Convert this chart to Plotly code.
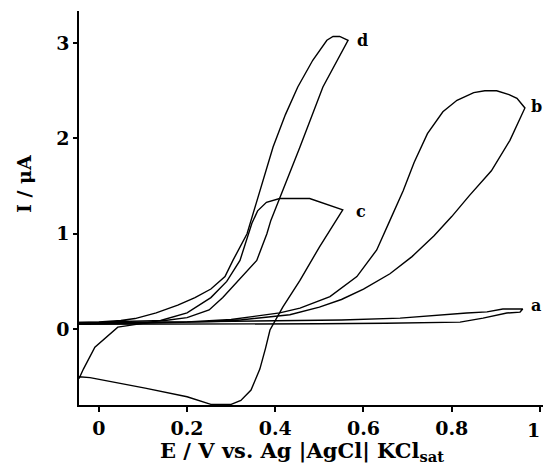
import plotly.graph_objects as go

# Curve a
E_a = [-0.045, 0.1, 0.3, 0.5, 0.65, 0.75, 0.819, 0.871, 0.925, 0.955, 0.961,
       0.916, 0.88, 0.834, 0.773, 0.683, 0.55, 0.4, 0.2, 0.05, -0.045]
I_a = [0.05, 0.05, 0.05, 0.055, 0.06, 0.065, 0.073, 0.115, 0.168, 0.178, 0.21,
       0.21, 0.18, 0.168, 0.147, 0.115, 0.095, 0.085, 0.075, 0.07, 0.07]

# Curve b
E_b = [-0.045, 0.1, 0.2, 0.3, 0.41, 0.456, 0.524, 0.585, 0.63, 0.66, 0.69, 0.715,
       0.745, 0.78, 0.812, 0.85, 0.875, 0.902, 0.93, 0.948, 0.966,
       0.932, 0.89, 0.84, 0.80, 0.76, 0.71, 0.66, 0.60, 0.55, 0.50, 0.433, 0.3, 0.1, -0.045]
I_b = [0.06, 0.065, 0.075, 0.1, 0.17, 0.22, 0.34, 0.55, 0.83, 1.14, 1.45, 1.75,
       2.05, 2.28, 2.40, 2.48, 2.50, 2.50, 2.46, 2.42, 2.32,
       1.98, 1.66, 1.40, 1.18, 0.98, 0.76, 0.58, 0.42, 0.31, 0.23, 0.15, 0.085, 0.06, 0.055]

# Curve c
E_c = [-0.045, -0.035, -0.009, 0.027, 0.043, 0.1, 0.14, 0.2, 0.254, 0.29, 0.32,
       0.347, 0.36, 0.38, 0.41, 0.478, 0.553,
       0.5, 0.456, 0.417, 0.388, 0.378, 0.365, 0.345, 0.322, 0.3, 0.254,
       0.2, 0.105, -0.02, -0.045]
I_c = [-0.52, -0.42, -0.19, -0.04, 0.02, 0.06, 0.09, 0.17, 0.33, 0.5, 0.72,
       1.11, 1.24, 1.33, 1.37, 1.37, 1.25,
       0.86, 0.51, 0.23, -0.01, -0.2, -0.42, -0.64, -0.75, -0.79, -0.79,
       -0.71, -0.62, -0.51, -0.50]

# Curve d
E_d = [-0.045, 0.0, 0.05, 0.082, 0.13, 0.179, 0.218, 0.254, 0.286, 0.304, 0.336,
       0.365, 0.395, 0.423, 0.451, 0.485, 0.517, 0.531, 0.546, 0.565,
       0.541, 0.508, 0.456, 0.39, 0.381, 0.358, 0.281, 0.25, 0.2, 0.15, 0.1, 0.05, -0.045]
I_d = [0.07, 0.075, 0.09, 0.11, 0.17, 0.25, 0.33, 0.42, 0.55, 0.72, 1.0,
       1.45, 1.91, 2.25, 2.54, 2.82, 3.03, 3.07, 3.07, 3.03,
       2.82, 2.54, 1.91, 1.14, 1.0, 0.72, 0.33, 0.2, 0.12, 0.09, 0.085, 0.08, 0.07]

curve_names = ["a", "b", "c", "d"]
label_E = [0.976, 0.976, 0.578, 0.58]
label_I = [0.25, 2.33, 1.23, 3.03]

x_ticks = [0, 0.2, 0.4, 0.6, 0.8, 1]
x_ticktext = ["0", "0.2", "0.4", "0.6", "0.8", ""]
edge_tick_text = "1"
y_ticks = [0, 1, 2, 3]
y_ticktext = ["0", "1", "2", "3"]

FONT = "DejaVu Serif"

fig = go.Figure()
for E, I in [(E_a, I_a), (E_b, I_b), (E_c, I_c), (E_d, I_d)]:
    fig.add_trace(go.Scatter(x=E, y=I, mode="lines",
                             line=dict(color="black", width=1.4),
                             showlegend=False, hoverinfo="skip"))

for name, ex, iy in zip(curve_names, label_E, label_I):
    fig.add_annotation(x=ex, y=iy, text=name, showarrow=False,
                       xanchor="left", yanchor="middle",
                       font=dict(family=FONT, size=16, color="black", weight="bold"))

# x tick label "1" at the right edge of the page
fig.add_annotation(x=1.0, xref="paper", y=-0.03, yref="paper",
                   text=edge_tick_text, showarrow=False,
                   xanchor="right", yanchor="top", xshift=-1,
                   font=dict(family=FONT, size=19, color="black", weight="bold"))

fig.add_annotation(x=0.48, xref="paper", y=-0.118, yref="paper",
                   text="E / V vs. Ag |AgCl| KCl<sub>sat</sub>",
                   showarrow=False, xanchor="center", yanchor="middle",
                   font=dict(family=FONT, size=21, color="black", weight="bold"))
fig.add_annotation(x=-0.117, xref="paper", y=0.56, yref="paper",
                   text="I / μA", textangle=-90,
                   showarrow=False, xanchor="center", yanchor="middle",
                   font=dict(family=FONT, size=19, color="black", weight="bold"))

fig.update_layout(
    width=543, height=467,
    margin=dict(l=79, r=0, t=11, b=62),
    paper_bgcolor="white", plot_bgcolor="white",
    xaxis=dict(range=[-0.045, 1.007], tickvals=x_ticks, ticktext=x_ticktext,
               showgrid=False, zeroline=False, showline=True, linecolor="black",
               linewidth=1.5, ticks="outside", ticklen=5, tickwidth=1.5,
               tickcolor="black",
               tickfont=dict(family=FONT, size=19, color="black", weight="bold")),
    yaxis=dict(range=[-0.797, 3.337], tickvals=y_ticks, ticktext=y_ticktext,
               showgrid=False, zeroline=False, showline=True, linecolor="black",
               linewidth=1.5, ticks="outside", ticklen=4, tickwidth=1.5,
               tickcolor="black",
               tickfont=dict(family=FONT, size=19, color="black", weight="bold")),
)

fig.write_html("out.html")
